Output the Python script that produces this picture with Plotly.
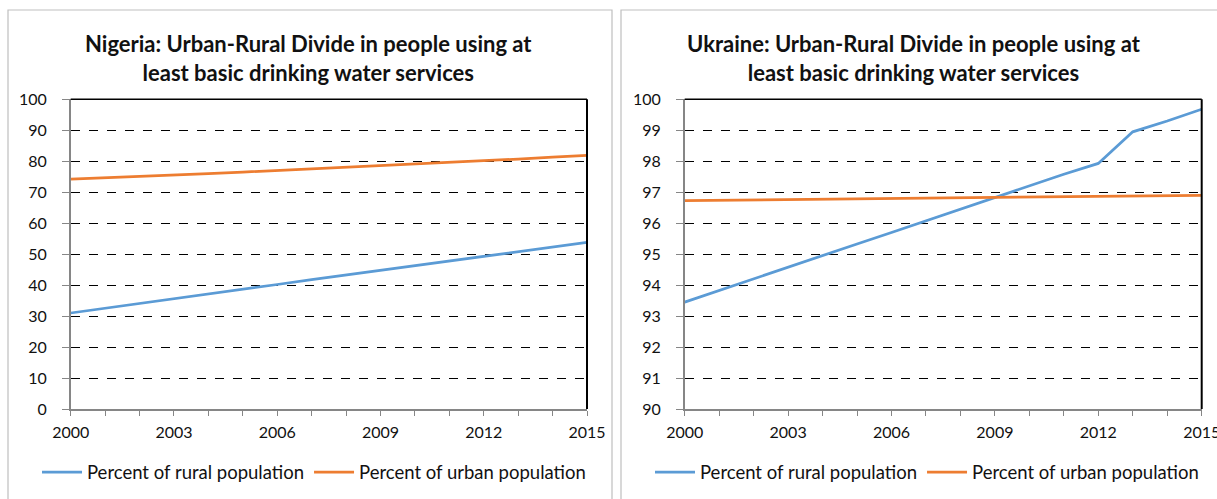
import plotly.graph_objects as go

years = list(range(2000, 2016))

nigeria_rural = [31.0, 32.5, 34.0, 35.5, 37.0, 38.6, 40.2, 41.8, 43.3, 44.8,
                 46.3, 47.8, 49.3, 50.8, 52.4, 53.8]
nigeria_urban = [74.2, 74.6, 75.1, 75.5, 76.0, 76.5, 77.0, 77.6, 78.1, 78.7,
                 79.2, 79.7, 80.2, 80.7, 81.3, 81.9]

ukraine_rural = [93.45, 93.83, 94.2, 94.58, 94.95, 95.33, 95.7, 96.08, 96.45,
                 96.83, 97.2, 97.58, 97.93, 98.95, 99.3, 99.68]
ukraine_urban = [96.73, 96.74, 96.75, 96.76, 96.77, 96.78, 96.79, 96.8, 96.81,
                 96.82, 96.83, 96.84, 96.86, 96.87, 96.88, 96.9]

titles = [
    "Nigeria: Urban-Rural Divide in people using at<br>least basic drinking water services",
    "Ukraine: Urban-Rural Divide in people using at<br>least basic drinking water services",
]
series_names = ["Percent of rural population", "Percent of urban population"]
tick_labels = [str(y) if (y - 2000) % 3 == 0 else "" for y in years]

BLUE = "#5B9BD5"
ORANGE = "#ED7D31"
AXIS_GRAY = "#868686"
FONT = "Lato, 'Open Sans', sans-serif"

W, H = 1217, 499


def px_x(p):
    return p / W


def px_y(p):
    return 1 - p / H


fig = go.Figure()

panels = [
    dict(rural=nigeria_rural, urban=nigeria_urban, xa="x", ya="y", legend="legend"),
    dict(rural=ukraine_rural, urban=ukraine_urban, xa="x2", ya="y2", legend="legend2"),
]
for p in panels:
    fig.add_trace(go.Scatter(x=years, y=p["rural"], mode="lines", name=series_names[0],
                             line=dict(color=BLUE, width=2.75),
                             xaxis=p["xa"], yaxis=p["ya"], legend=p["legend"]))
    fig.add_trace(go.Scatter(x=years, y=p["urban"], mode="lines", name=series_names[1],
                             line=dict(color=ORANGE, width=2.75),
                             xaxis=p["xa"], yaxis=p["ya"], legend=p["legend"]))

y_dom = [px_y(409), px_y(99.3)]
x_doms = [[px_x(70.7), px_x(587)], [px_x(684.7), px_x(1201.7)]]

common_x = dict(range=[2000, 2015], tickmode="array", tickvals=years, ticktext=tick_labels,
                ticks="outside", ticklen=5, tickcolor=AXIS_GRAY, showgrid=False,
                showline=True, linecolor=AXIS_GRAY, linewidth=1.5, mirror=False,
                zeroline=False, tickfont=dict(size=16, color="#111"), fixedrange=True,
                automargin=False, ticklabeloverflow="allow", ticklabelstandoff=3)
common_y = dict(ticks="outside", ticklen=7, tickcolor=AXIS_GRAY,
                showgrid=True, gridcolor="black", griddash="dash", gridwidth=1,
                showline=True, linecolor=AXIS_GRAY, linewidth=1.5, mirror=False,
                zeroline=False, tickfont=dict(size=16, color="#111"), fixedrange=True,
                automargin=False, ticklabelstandoff=12)

legend_common = dict(orientation="h", xanchor="center", y=px_y(472.5), yanchor="middle",
                     font=dict(size=18.5, color="#111"), bgcolor="rgba(0,0,0,0)",
                     itemwidth=40, tracegroupgap=0)

fig.update_layout(
    width=W, height=H,
    margin=dict(l=0, r=0, t=0, b=0, autoexpand=False),
    paper_bgcolor="white", plot_bgcolor="white",
    font=dict(family=FONT, color="#111"),
    xaxis=dict(domain=x_doms[0], anchor="y", **common_x),
    yaxis=dict(domain=y_dom, anchor="x", range=[0, 100], dtick=10, **common_y),
    xaxis2=dict(domain=x_doms[1], anchor="y2", **common_x),
    yaxis2=dict(domain=y_dom, anchor="x2", range=[90, 100], dtick=1, **common_y),
    legend=dict(x=px_x(314), **legend_common),
    legend2=dict(x=px_x(927), **legend_common),
    showlegend=True,
)

# Panel frames
for x0, x1 in [(8, 612), (621, 1225)]:
    fig.add_shape(type="rect", xref="paper", yref="paper",
                  x0=px_x(x0), x1=px_x(x1), y0=px_y(520), y1=px_y(10),
                  line=dict(color="#BFBFBF", width=1.2), layer="below")

# Black plot-area border on the top and right sides
for xr, yr in [("x domain", "y domain"), ("x2 domain", "y2 domain")]:
    fig.add_shape(type="line", xref=xr, yref=yr, x0=0, x1=1, y0=1, y1=1,
                  line=dict(color="black", width=1.5))
    fig.add_shape(type="line", xref=xr, yref=yr, x0=1, x1=1, y0=0, y1=1,
                  line=dict(color="black", width=2))

# Panel titles
for cx, t in zip([308, 914], titles):
    fig.add_annotation(text="<b>" + t + "</b>", xref="paper", yref="paper",
                       x=px_x(cx), y=px_y(58), xanchor="center", yanchor="middle",
                       showarrow=False, font=dict(size=22, color="#111"),
                       align="center")

# Page body without default margins so the figure sits flush in the window
fig.write_html(
    "out.html",
    post_script="document.body.style.margin='0';document.body.style.overflow='hidden';",
)
